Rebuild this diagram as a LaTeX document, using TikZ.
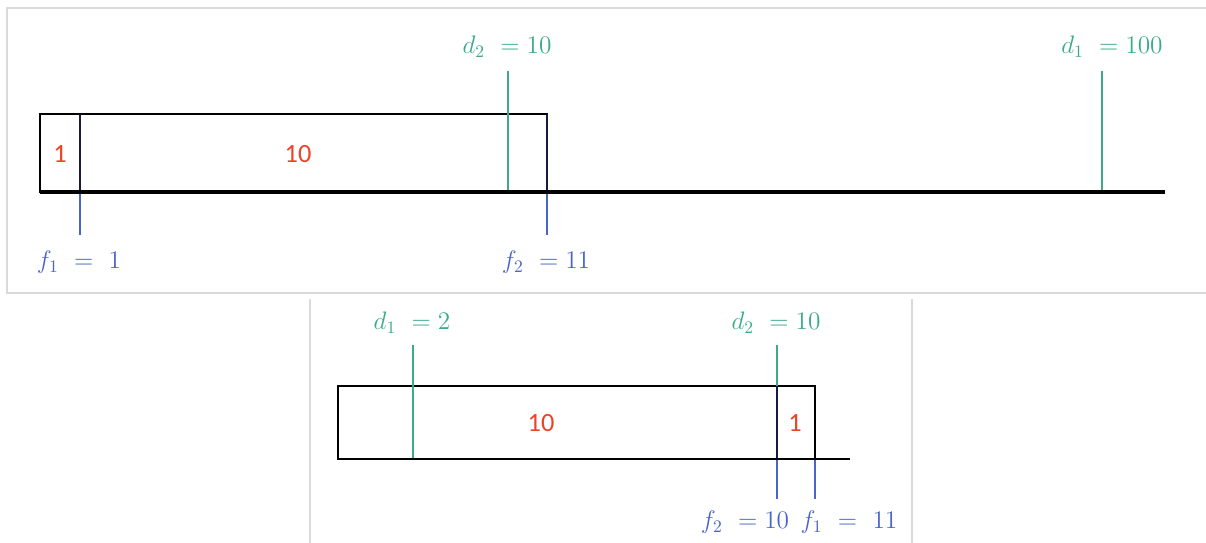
\documentclass[tikz,border=0pt]{standalone}
\usepackage{amsmath,amssymb}
\usepackage{fontspec}
\usepackage{xcolor}
\usetikzlibrary{positioning}
\newfontfamily\jobfont{Carlito}

\definecolor{dlgreen}{RGB}{58,170,138}
\definecolor{fblue}{RGB}{74,100,200}
\definecolor{jobred}{RGB}{236,66,40}
\definecolor{divnavy}{RGB}{22,26,62}
\definecolor{framegray}{RGB}{218,218,218}

\tikzset{
  frameline/.style={framegray,line width=0.6pt},
  axisline/.style={black,line width=1.8pt},
  boxline/.style={black,line width=0.9pt},
  dline/.style={dlgreen,line width=1.5pt},
  fline/.style={fblue,line width=1.5pt},
  divider/.style={divnavy,line width=1.1pt},
  lbl/.style={inner sep=0pt,font=\fontsize{14.5}{16}\selectfont},
  joblbl/.style={inner sep=0pt,jobred,font=\jobfont\fontsize{15}{16}\selectfont},
  dlbl/.style={lbl,dlgreen},
  flbl/.style={lbl,fblue},
}

\begin{document}
\begin{tikzpicture}[x=0.02cm,y=-0.02cm]
  \useasboundingbox (0,0) rectangle (1206,543);
  % frames
  \draw[frameline] (1206,8) -- (7,8) -- (7,293) -- (1206,293);
  \draw[frameline] (310,543) -- (310,299);
  \draw[frameline] (912,299) -- (912,543);

  % upper schedule: job 1 first
  \coordinate (a0) at (40,192);
  \coordinate (a1) at (1165,192);
  \coordinate (bx0) at (40,114);
  \coordinate (bx1) at (547,192);
  \coordinate (c1t) at (80,114);
  \coordinate (c1b) at (80,192);
  \coordinate (c1f) at (80,235);
  \coordinate (c2t) at (547,114);
  \coordinate (c2b) at (547,192);
  \coordinate (c2f) at (547,235);
  \coordinate (d2t) at (508,71);
  \coordinate (d2b) at (508,192);
  \coordinate (d1t) at (1102,71);
  \coordinate (d1b) at (1102,192);
  \draw[boxline] (bx0) rectangle (bx1);
  \draw[divider] (c1t) -- (c1b);
  \draw[divider] (c2t) -- (c2b);
  \draw[dline] (d2t) -- (d2b);
  \draw[dline] (d1t) -- (d1b);
  \draw[fline] (c1b) -- (c1f);
  \draw[fline] (c2b) -- (c2f);
  \draw[axisline] (a0) -- (a1);
  \node[joblbl] (j1) at (60,154) {1};
  \node[joblbl] (j2) at (298,154) {10};
  \node[dlbl] (dl2) at (507,47) {$d_2\ = 10$};
  \node[dlbl] (dl1) at (1112,47) {$d_1\ = 100$};
  \node[flbl] (fl1) at (79,262) {$f_1\ =\ 1$};
  \node[flbl] (fl2) at (546,262) {$f_2\ = 11$};

  % lower schedule: job 2 first
  \coordinate (b0) at (338,459);
  \coordinate (b1) at (850,459);
  \coordinate (by0) at (338,386);
  \coordinate (by1) at (815,459);
  \coordinate (e1t) at (413,345);
  \coordinate (e1b) at (413,459);
  \coordinate (e2t) at (777,345);
  \coordinate (e2m) at (777,386);
  \coordinate (e2b) at (777,459);
  \coordinate (e2f) at (777,499);
  \coordinate (g1t) at (815,386);
  \coordinate (g1b) at (815,459);
  \coordinate (g1f) at (815,499);
  \draw[boxline] (by0) rectangle (by1);
  \draw[dline] (e1t) -- (e1b);
  \draw[dline] (e2t) -- (e2m);
  \draw[divider] (e2m) -- (e2b);
  \draw[boxline] (g1t) -- (g1b);
  \draw[fline] (e2b) -- (e2f);
  \draw[fline] (g1b) -- (g1f);
  \draw[axisline,line width=1.3pt] (b0) -- (b1);
  \node[joblbl] (k2) at (541,423) {10};
  \node[joblbl] (k1) at (795,423) {1};
  \node[dlbl] (el1) at (412,323) {$d_1\ = 2$};
  \node[dlbl] (el2) at (776,323) {$d_2\ = 10$};
  \node[flbl] (gl2) at (745,522) {$f_2\ = 10$};
  \node[flbl] (gl1) at (849,522) {$f_1\ =\ 11$};
\end{tikzpicture}
\end{document}
